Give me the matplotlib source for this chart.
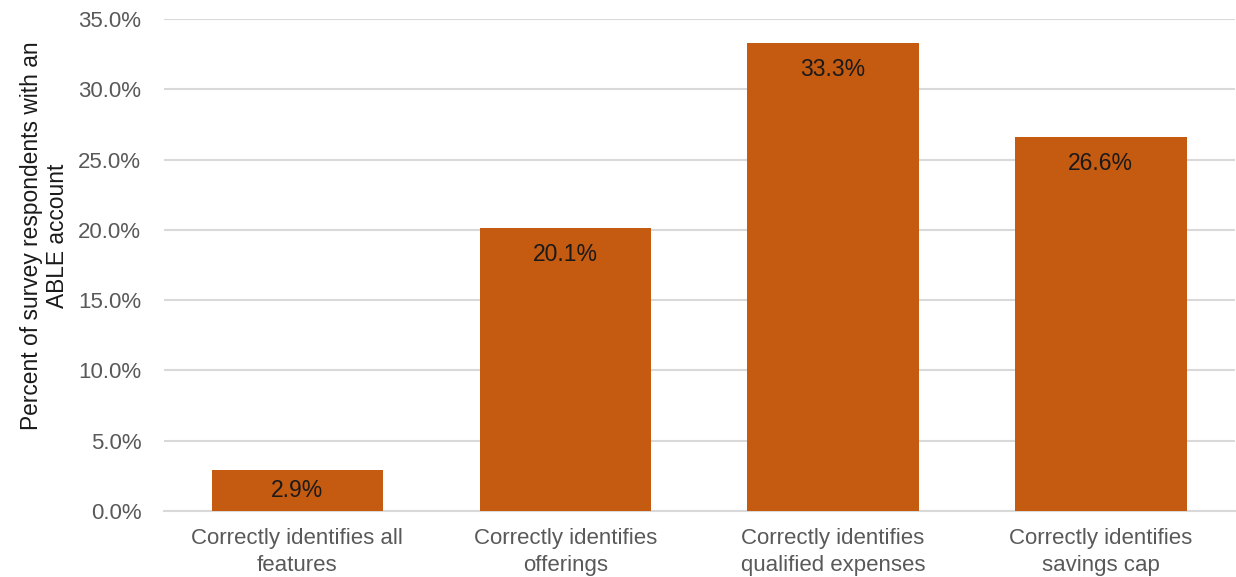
import matplotlib
matplotlib.use("Agg")
import matplotlib.pyplot as plt
from matplotlib.ticker import FuncFormatter

plt.rcParams['font.family'] = ['Liberation Sans', 'DejaVu Sans']

categories = [
    "Correctly identifies all\nfeatures",
    "Correctly identifies\nofferings",
    "Correctly identifies\nqualified expenses",
    "Correctly identifies\nsavings cap",
]
values = [2.9, 20.1, 33.3, 26.6]
y_ticks = [0, 5, 10, 15, 20, 25, 30, 35]

bar_color = "#C55A11"
grid_color = "#D9D9D9"
tick_color = "#595959"

fig = plt.figure(figsize=(12.36, 5.77), dpi=100)
ax = fig.add_axes([0.1323, 0.1144, 0.8667, 0.8527])

x = list(range(len(categories)))
ax.bar(x, values, width=0.64, color=bar_color, zorder=3)

ax.set_xlim(-0.5, len(categories) - 0.5)
ax.set_ylim(0, 35)

# value labels sit just inside the top of each bar; short bars get them centred
label_offset_pt = 19
px_per_unit = ax.get_window_extent().height / 35
for xi, v in zip(x, values):
    half_bar_pt = v * px_per_unit / 2 * 72 / fig.dpi
    off = min(label_offset_pt, half_bar_pt)
    ax.annotate(f"{v:.1f}%", xy=(xi, v), xytext=(0, -off), textcoords="offset points",
                ha="center", va="center", fontsize=16.5, color="#1a1a1a", zorder=4)

ax.set_yticks(y_ticks)
ax.yaxis.set_major_formatter(FuncFormatter(lambda v, p: f"{v:.1f}%"))
ax.grid(axis="y", color=grid_color, linewidth=1.5, zorder=0)
ax.set_axisbelow(True)

for s in ["top", "right", "left"]:
    ax.spines[s].set_visible(False)
ax.spines["bottom"].set_color(grid_color)
ax.spines["bottom"].set_linewidth(1.5)

ax.set_xticks(x)
ax.set_xticklabels(categories, fontsize=16, color=tick_color, linespacing=1.38)
ax.tick_params(axis="x", length=0, pad=12)
ax.tick_params(axis="y", length=0, labelsize=16, labelcolor=tick_color, pad=16)

ax.set_ylabel("Percent of survey respondents with an\nABLE account", fontsize=16.4,
              color="#1a1a1a", linespacing=1.2)
ax.yaxis.set_label_coords(-0.088, 0.56)

fig.savefig("out.png", dpi=100)
